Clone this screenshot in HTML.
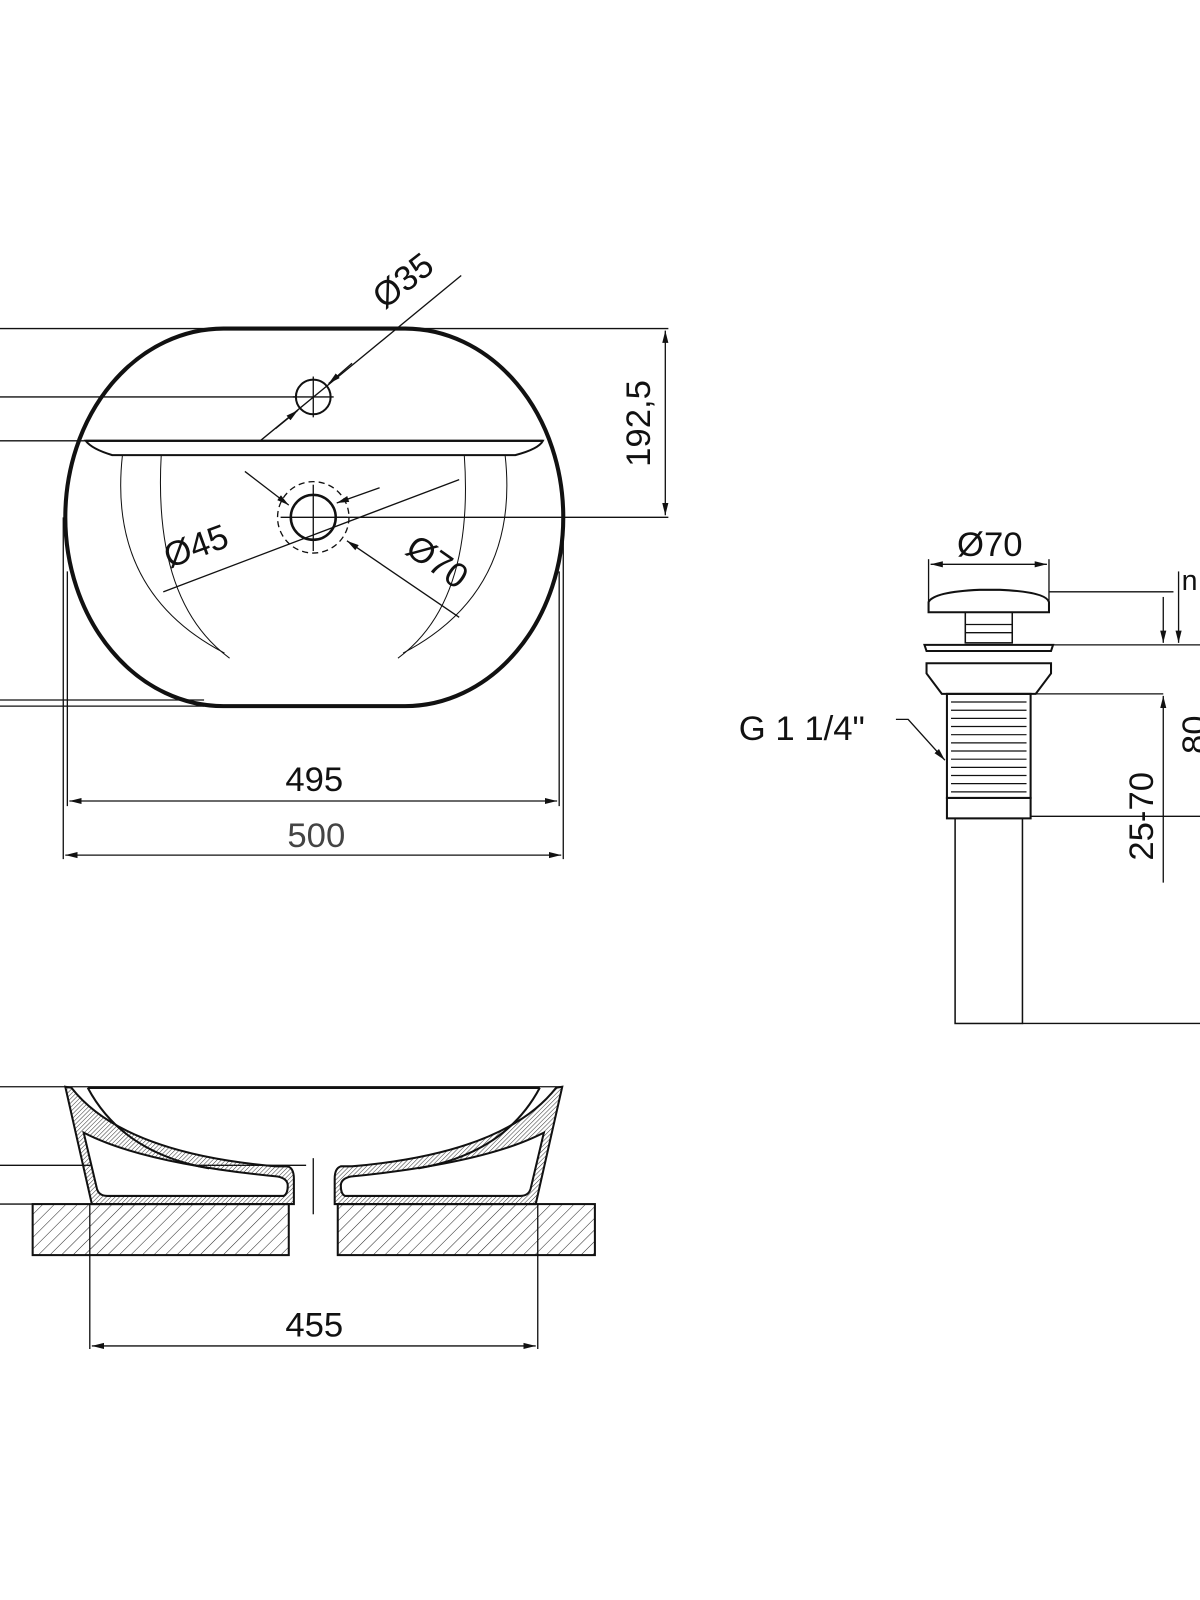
<!DOCTYPE html>
<html><head><style>html,body{margin:0;padding:0;background:#fff}svg{display:block}</style></head><body>
<svg width="1200" height="1600" viewBox="0 0 1176 1568" xmlns="http://www.w3.org/2000/svg" font-family="Liberation Sans, sans-serif">
<defs>
<pattern id="h" width="8" height="8" patternUnits="userSpaceOnUse" patternTransform="rotate(45)"><line x1="0" y1="0" x2="0" y2="8" stroke="#222" stroke-width="1"/></pattern>
<pattern id="h2" width="3" height="3" patternUnits="userSpaceOnUse" patternTransform="rotate(45)"><line x1="0" y1="0" x2="0" y2="3" stroke="#333" stroke-width="1"/></pattern>
<marker id="a" markerWidth="12" markerHeight="8" refX="12" refY="4" orient="auto-start-reverse" markerUnits="userSpaceOnUse"><path d="M0,1 L12,4 L0,7z" fill="#111"/></marker>
</defs>
<g stroke="#111" fill="none" stroke-width="1.3">
<line x1="0" y1="322" x2="655" y2="322"/>
<line x1="0" y1="389" x2="290" y2="389"/>
<line x1="0" y1="432" x2="90" y2="432"/>
<line x1="0" y1="686" x2="200" y2="686"/>
<line x1="0" y1="692" x2="200" y2="692"/>
<line x1="330" y1="507" x2="655" y2="507"/>
<line x1="652" y1="324" x2="652" y2="505" marker-start="url(#a)" marker-end="url(#a)"/>
<rect x="64" y="322" width="488" height="370" rx="155" ry="185" stroke-width="4"/>
<path d="M84 432 Q90 440 110 446 L505 446 Q528 440 532 432 Z" stroke-width="2"/>
<line x1="84" y1="432" x2="532" y2="432" stroke-width="2"/>
<path d="M120 446 Q105 580 220 640" stroke-width="1"/>
<path d="M158 446 Q150 590 225 645" stroke-width="1"/>
<path d="M495 446 Q510 580 395 640" stroke-width="1"/>
<path d="M455 446 Q465 590 390 645" stroke-width="1"/>
<circle cx="307" cy="389" r="17" stroke-width="2"/>
<line x1="287" y1="389" x2="327" y2="389"/><line x1="307" y1="369" x2="307" y2="409"/>
<line x1="255" y1="432" x2="452" y2="270"/>
<line x1="345" y1="356" x2="322" y2="376" marker-end="url(#a)"/>
<line x1="270" y1="420" x2="292" y2="402" marker-end="url(#a)"/>
<circle cx="307" cy="507" r="22" stroke-width="2.5"/>
<circle cx="307" cy="507" r="35" stroke-dasharray="6 4"/>
<line x1="275" y1="507" x2="340" y2="507"/><line x1="307" y1="475" x2="307" y2="540"/>
<line x1="160" y1="580" x2="450" y2="470"/>
<line x1="240" y1="462" x2="283" y2="495" marker-end="url(#a)"/>
<line x1="372" y1="478" x2="330" y2="493" marker-end="url(#a)"/>
<line x1="450" y1="605" x2="340" y2="530" marker-end="url(#a)"/>
<line x1="66" y1="560" x2="66" y2="790"/><line x1="548" y1="560" x2="548" y2="790"/>
<line x1="62" y1="507" x2="62" y2="842"/><line x1="552" y1="507" x2="552" y2="842"/>
<line x1="68" y1="785" x2="546" y2="785" marker-start="url(#a)" marker-end="url(#a)"/>
<line x1="64" y1="838" x2="550" y2="838" marker-start="url(#a)" marker-end="url(#a)"/>
<line x1="0" y1="1065" x2="550" y2="1065"/>
<line x1="0" y1="1142" x2="300" y2="1142"/>
<line x1="0" y1="1180" x2="32" y2="1180"/>
<rect x="32" y="1180" width="251" height="50" fill="url(#h)" stroke-width="2"/>
<rect x="331" y="1180" width="252" height="50" fill="url(#h)" stroke-width="2"/>
<path d="M64 1065 L70 1066 Q120 1130 270 1143 L282 1143 Q288 1145 288 1155 L288 1180 L90 1180 Z" fill="url(#h2)" stroke-width="2"/>
<path d="M82 1110 L95 1165 Q97 1172 105 1172 L278 1172 Q282 1170 282 1162 Q282 1155 272 1153 Q140 1140 82 1110 Z" fill="#fff" stroke-width="2"/>
<path d="M551 1065 L545 1066 Q495 1130 345 1143 L334 1143 Q328 1145 328 1155 L328 1180 L525 1180 Z" fill="url(#h2)" stroke-width="2"/>
<path d="M533 1110 L520 1165 Q518 1172 510 1172 L338 1172 Q334 1170 334 1162 Q334 1155 344 1153 Q475 1140 533 1110 Z" fill="#fff" stroke-width="2"/>
<path d="M86 1066 Q120 1130 205 1145" stroke-width="2"/>
<path d="M529 1066 Q495 1130 410 1145" stroke-width="2"/>
<line x1="86" y1="1066" x2="529" y2="1066" stroke-width="2.5"/>
<line x1="307" y1="1135" x2="307" y2="1190"/>
<line x1="88" y1="1180" x2="88" y2="1322"/><line x1="527" y1="1180" x2="527" y2="1322"/>
<line x1="90" y1="1319" x2="525" y2="1319" marker-start="url(#a)" marker-end="url(#a)"/>
<line x1="910" y1="548" x2="910" y2="600"/><line x1="1028" y1="548" x2="1028" y2="600"/>
<line x1="912" y1="553" x2="1026" y2="553" marker-start="url(#a)" marker-end="url(#a)"/>
<path d="M910 600 L910 590 Q915 580 960 578 L980 578 Q1025 580 1028 590 L1028 600 Z" stroke-width="2"/>
<line x1="1028" y1="580" x2="1150" y2="580"/>
<rect x="946" y="600" width="46" height="30" stroke-width="1.5"/>
<line x1="946" y1="612" x2="992" y2="612"/><line x1="946" y1="620" x2="992" y2="620"/>
<path d="M906 632 L1032 632 L1030 638 L908 638 Z" stroke-width="2"/>
<line x1="1032" y1="632" x2="1176" y2="632"/>
<path d="M908 650 L1030 650 L1030 660 L1015 680 L923 680 L908 660 Z" stroke-width="2"/>
<line x1="1010" y1="680" x2="1140" y2="680"/>
<rect x="928" y="680" width="82" height="102" stroke-width="2"/>
<g stroke-width="1.2">
<line x1="932" y1="688" x2="1006" y2="688"/><line x1="932" y1="696" x2="1006" y2="696"/><line x1="932" y1="704" x2="1006" y2="704"/><line x1="932" y1="712" x2="1006" y2="712"/><line x1="932" y1="720" x2="1006" y2="720"/><line x1="932" y1="728" x2="1006" y2="728"/><line x1="932" y1="736" x2="1006" y2="736"/><line x1="932" y1="744" x2="1006" y2="744"/><line x1="932" y1="752" x2="1006" y2="752"/><line x1="932" y1="760" x2="1006" y2="760"/><line x1="932" y1="768" x2="1006" y2="768"/><line x1="932" y1="776" x2="1006" y2="776"/>
</g>
<rect x="928" y="782" width="82" height="20" stroke-width="2"/>
<line x1="1010" y1="800" x2="1176" y2="800"/>
<rect x="936" y="802" width="66" height="201" stroke-width="1.5"/>
<line x1="1002" y1="1003" x2="1176" y2="1003"/>
<line x1="1140" y1="585" x2="1140" y2="630" marker-end="url(#a)"/>
<line x1="1155" y1="560" x2="1155" y2="630" marker-end="url(#a)"/>
<line x1="1140" y1="682" x2="1140" y2="865" marker-start="url(#a)"/>
<path d="M878 705 L890 705 L926 745" marker-end="url(#a)"/>
</g>
<g fill="#111" font-size="34">
<text x="308" y="775" text-anchor="middle">495</text>
<text x="310" y="830" text-anchor="middle" fill="#444">500</text>
<text x="308" y="1310" text-anchor="middle">455</text>
<text x="970" y="545" text-anchor="middle">Ø70</text>
<text x="724" y="725">G 1 1/4"</text>
<text transform="translate(637,415) rotate(-90)" text-anchor="middle">192,5</text>
<text transform="translate(402,284) rotate(-38)" text-anchor="middle">Ø35</text>
<text transform="translate(196,546) rotate(-20)" text-anchor="middle">Ø45</text>
<text transform="translate(422,560) rotate(35)" text-anchor="middle">Ø70</text>
<text transform="translate(1130,800) rotate(-90)" text-anchor="middle">25-70</text>
<text transform="translate(1182,720) rotate(-90)" text-anchor="middle">80</text>
<text x="1158" y="578" font-size="28">n</text>
</g>
</svg>
</body></html>
